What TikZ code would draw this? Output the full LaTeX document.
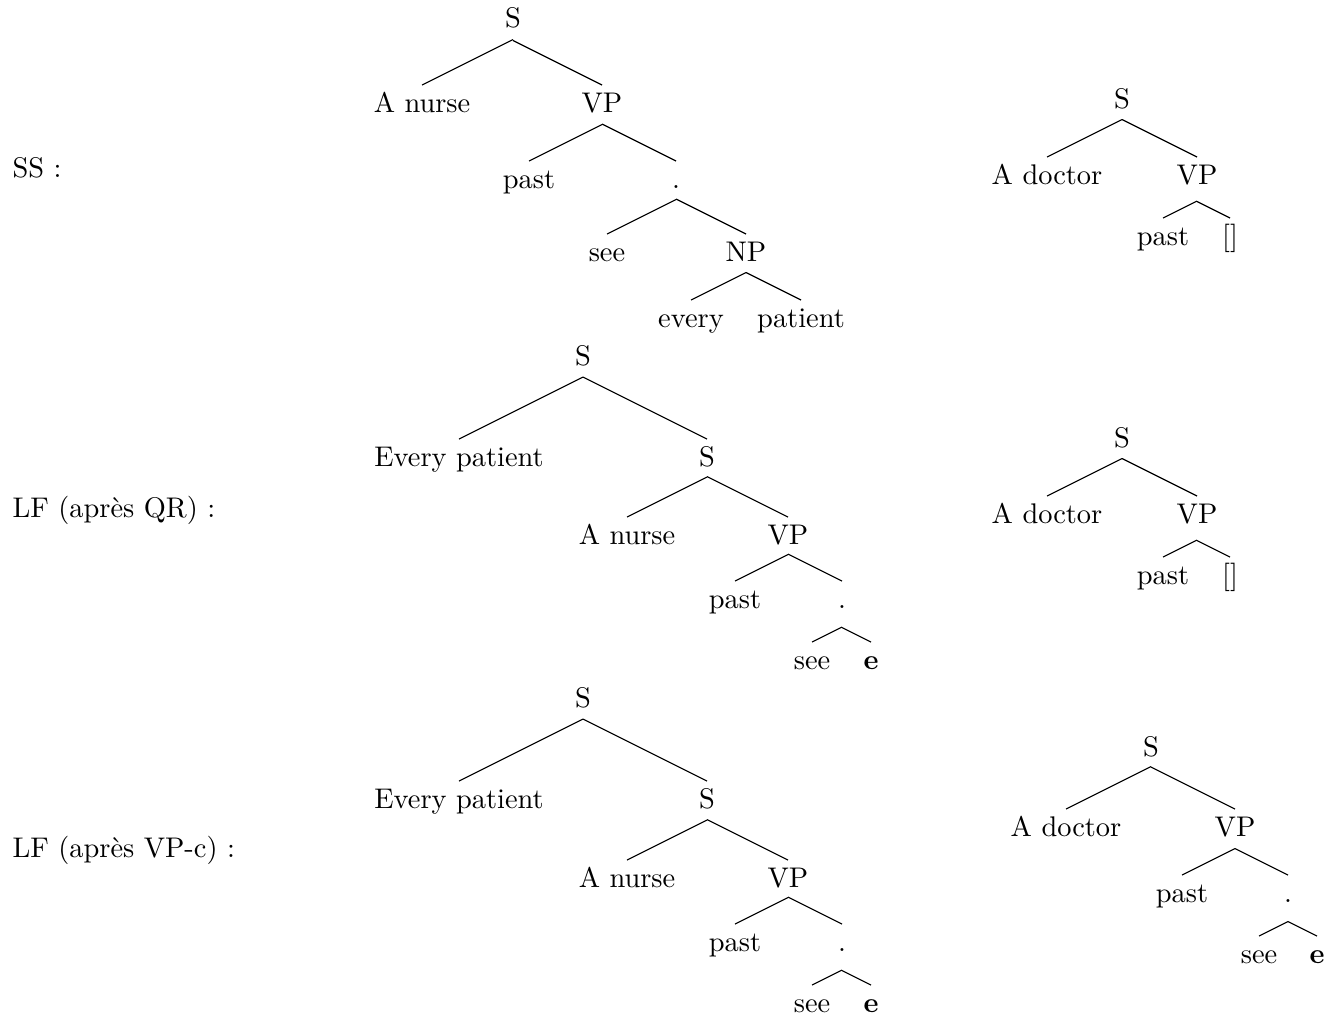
\documentclass[tikz,border=0pt]{standalone}
\usetikzlibrary{calc}

\begin{document}
\begin{tikzpicture}[x=0.352pt, y=-0.352pt,
  word/.style = {anchor=base, inner sep=0pt, text height=9.3pt, text depth=2pt},
  tag/.style  = {anchor=base west, inner sep=0pt},
  twig/.style = {to path={let \p1=(\tikztostart.south), \p2=(\tikztotarget.north)
                 in (\x1,{\y2+0.5*abs(\x1-\x2)}) -- (\p2)}}]
\useasboundingbox (0,0) rectangle (1339,1015);

\node[tag] (ss) at (12,177) {SS :};
\node[tag] (qr) at (12,517) {LF (après QR) :};
\node[tag] (vc) at (12,857) {LF (après VP-c) :};

% SS
\node[word] (s1)  at (513,28)  {S};
\node[word] (an1) at (422,112) {A nurse};
\node[word] (vp1) at (602,112) {VP};
\node[word] (pa1) at (529,188) {past};
\node[word] (d1)  at (676,188) {.};
\node[word] (se1) at (607,261) {see};
\node[word] (np1) at (746,261) {NP};
\node[word] (ev1) at (691,327) {every};
\node[word] (pt1) at (801,327) {patient};

\draw (s1) to[twig] (an1);
\draw (s1) to[twig] (vp1);
\draw (vp1) to[twig] (pa1);
\draw (vp1) to[twig] (d1);
\draw (d1) to[twig] (se1);
\draw (d1) to[twig] (np1);
\draw (np1) to[twig] (ev1);
\draw (np1) to[twig] (pt1);

\node[word] (s2)  at (1122,108) {S};
\node[word] (ad2) at (1047,184) {A doctor};
\node[word] (vp2) at (1197,184) {VP};
\node[word] (pa2) at (1163,245) {past};
\node[word] (g2)  at (1230,245) {[]};

\draw (s2) to[twig] (ad2);
\draw (s2) to[twig] (vp2);
\draw (vp2) to[twig] (pa2);
\draw (vp2) to[twig] (g2);

% LF apres QR
\node[word] (s3)  at (583,365) {S};
\node[word] (ep3) at (459,466) {Every patient};
\node[word] (t3)  at (707,466) {S};
\node[word] (an3) at (627,544) {A nurse};
\node[word] (vp3) at (788,544) {VP};
\node[word] (pa3) at (735,608) {past};
\node[word] (d3)  at (842,608) {.};
\node[word] (se3) at (812,669) {see};
\node[word] (e3)  at (871,669) {\textbf{e}};

\draw (s3) to[twig] (ep3);
\draw (s3) to[twig] (t3);
\draw (t3) to[twig] (an3);
\draw (t3) to[twig] (vp3);
\draw (vp3) to[twig] (pa3);
\draw (vp3) to[twig] (d3);
\draw (d3) to[twig] (se3);
\draw (d3) to[twig] (e3);

\node[word] (s4)  at (1122,447) {S};
\node[word] (ad4) at (1047,523) {A doctor};
\node[word] (vp4) at (1197,523) {VP};
\node[word] (pa4) at (1163,584) {past};
\node[word] (g4)  at (1230,584) {[]};

\draw (s4) to[twig] (ad4);
\draw (s4) to[twig] (vp4);
\draw (vp4) to[twig] (pa4);
\draw (vp4) to[twig] (g4);

% LF apres VP-c
\node[word] (s5)  at (583,707)  {S};
\node[word] (ep5) at (459,808)  {Every patient};
\node[word] (t5)  at (707,808)  {S};
\node[word] (an5) at (627,887)  {A nurse};
\node[word] (vp5) at (788,887)  {VP};
\node[word] (pa5) at (735,951)  {past};
\node[word] (d5)  at (842,951)  {.};
\node[word] (se5) at (812,1012) {see};
\node[word] (e5)  at (871,1012) {\textbf{e}};

\draw (s5) to[twig] (ep5);
\draw (s5) to[twig] (t5);
\draw (t5) to[twig] (an5);
\draw (t5) to[twig] (vp5);
\draw (vp5) to[twig] (pa5);
\draw (vp5) to[twig] (d5);
\draw (d5) to[twig] (se5);
\draw (d5) to[twig] (e5);

\node[word] (s6)  at (1151,756) {S};
\node[word] (ad6) at (1066,836) {A doctor};
\node[word] (vp6) at (1235,836) {VP};
\node[word] (pa6) at (1182,902) {past};
\node[word] (d6)  at (1288,902) {.};
\node[word] (se6) at (1259,963) {see};
\node[word] (e6)  at (1317,963) {\textbf{e}};

\draw (s6) to[twig] (ad6);
\draw (s6) to[twig] (vp6);
\draw (vp6) to[twig] (pa6);
\draw (vp6) to[twig] (d6);
\draw (d6) to[twig] (se6);
\draw (d6) to[twig] (e6);
\end{tikzpicture}
\end{document}
